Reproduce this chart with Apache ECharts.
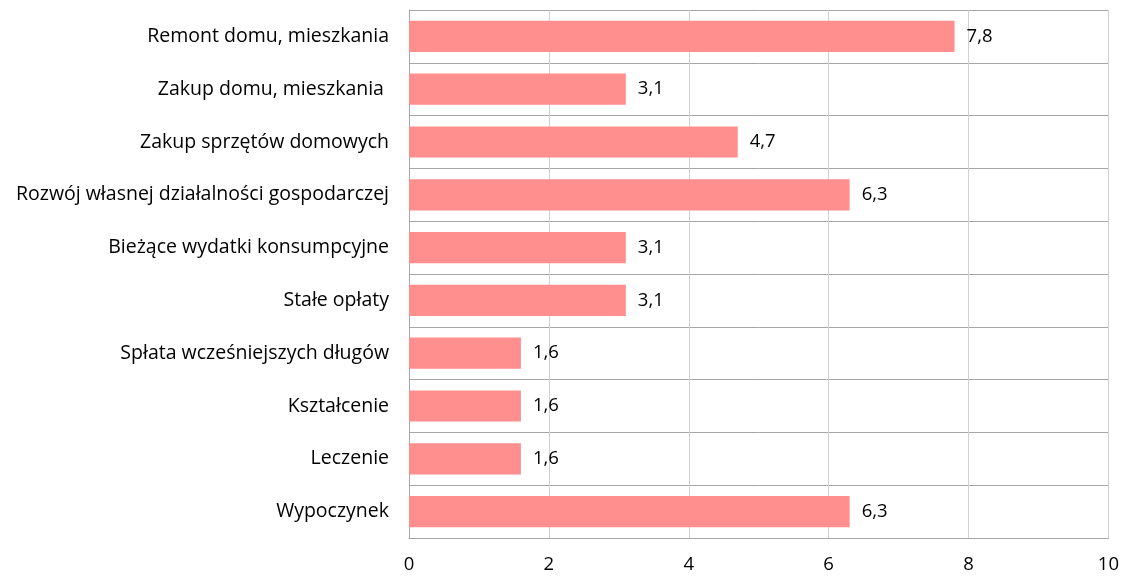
<!DOCTYPE html>
<html><head><meta charset="utf-8">
<script src="https://cdn.jsdelivr.net/npm/echarts@6/dist/echarts.min.js"></script>
<style>html,body{margin:0;padding:0;background:#fff}#c{width:1122px;height:576px}</style>
</head><body><div id="c"></div>
<script>
const categories = ["Remont domu, mieszkania","Zakup domu, mieszkania ","Zakup sprzętów domowych","Rozwój własnej działalności gospodarczej","Bieżące wydatki konsumpcyjne","Stałe opłaty","Spłata wcześniejszych długów","Kształcenie","Leczenie","Wypoczynek"];
const values = [7.8,3.1,4.7,6.3,3.1,3.1,1.6,1.6,1.6,6.3];
const xTicks = {min:0,max:10,interval:2};
const font = "'Open Sans', sans-serif";
const chart = echarts.init(document.getElementById('c'));
chart.setOption({
  animation:false,
  grid:{left:409,right:13,top:10,bottom:38,containLabel:false},
  xAxis:{type:'value',min:xTicks.min,max:xTicks.max,interval:xTicks.interval,
    axisLine:{show:true,lineStyle:{color:'#a6a6a6',width:1}},
    axisTick:{show:false},
    axisLabel:{color:'#000',fontSize:18.5,fontFamily:font,margin:17},
    splitLine:{show:true,lineStyle:{color:'#d0d0d0',width:1}}},
  yAxis:{type:'category',data:categories,inverse:true,
    axisLine:{show:true,lineStyle:{color:'#a6a6a6',width:1}},
    axisTick:{show:false},
    axisLabel:{color:'#000',fontSize:19.5,fontFamily:font,margin:20},
    splitLine:{show:true,lineStyle:{color:'#a6a6a6',width:1}}},
  series:[{type:'bar',data:values,barCategoryGap:'41%',
    itemStyle:{color:'#ff8e8e'},
    label:{show:true,position:'right',distance:12,color:'#000',fontSize:18.5,fontFamily:font,
      formatter:p=>String(p.value).replace('.',',')}}]
});
</script></body></html>
